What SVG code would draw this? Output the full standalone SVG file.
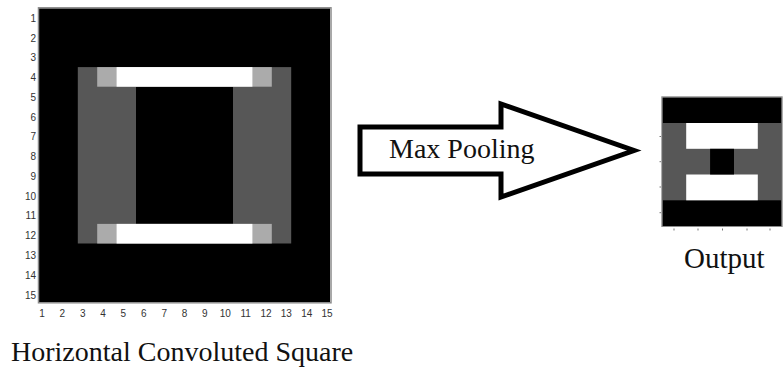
<svg xmlns="http://www.w3.org/2000/svg" width="783" height="371" viewBox="0 0 783 371">
<style>
.blk{fill:#000}
.dg{fill:#575757}
.lg{fill:#ababab}
.wh{fill:#fff}
.frame{fill:none;stroke:#8c8c8c;stroke-width:1.5}
.tick{font-family:"Liberation Sans",Arial,sans-serif;font-size:10px;fill:#333}
.ylab{text-anchor:end}
.xlab{text-anchor:middle}
.cap{font-family:"Liberation Serif","Times New Roman",serif;font-size:28px;fill:#111}
.arrow{fill:#fff;stroke:#000;stroke-width:5;stroke-linejoin:miter;stroke-miterlimit:10}
.mk{stroke:#777;stroke-width:1}
</style>
<rect width="783" height="371" fill="#fff"/>
<g id="input-image">
<rect class="blk" x="39" y="8.3" width="291" height="294"/>
<rect class="dg" x="77.8" y="67.1" width="213.4" height="176.4"/>
<rect class="blk" x="136" y="86.7" width="97" height="137.2"/>
<rect class="lg" x="97.2" y="67.1" width="174.6" height="19.6"/>
<rect class="wh" x="116.6" y="67.1" width="135.8" height="19.6"/>
<rect class="lg" x="97.2" y="223.9" width="174.6" height="19.6"/>
<rect class="wh" x="116.6" y="223.9" width="135.8" height="19.6"/>
<rect class="frame" x="38.5" y="7.8" width="292.5" height="295"/>
</g>
<g id="input-y-axis" class="tick ylab">
<text x="36" y="21.8">1</text>
<text x="36" y="41.6">2</text>
<text x="36" y="61.3">3</text>
<text x="36" y="81.1">4</text>
<text x="36" y="100.9">5</text>
<text x="36" y="120.6">6</text>
<text x="36" y="140.4">7</text>
<text x="36" y="160.2">8</text>
<text x="36" y="179.9">9</text>
<text x="36" y="199.7">10</text>
<text x="36" y="219.4">11</text>
<text x="36" y="239.2">12</text>
<text x="36" y="259">13</text>
<text x="36" y="278.7">14</text>
<text x="36" y="298.5">15</text>
</g>
<g id="input-x-axis" class="tick xlab">
<text x="42" y="316.5">1</text>
<text x="62.4" y="316.5">2</text>
<text x="82.7" y="316.5">3</text>
<text x="103.1" y="316.5">4</text>
<text x="123.4" y="316.5">5</text>
<text x="143.8" y="316.5">6</text>
<text x="164.2" y="316.5">7</text>
<text x="184.5" y="316.5">8</text>
<text x="204.9" y="316.5">9</text>
<text x="225.2" y="316.5">10</text>
<text x="245.6" y="316.5">11</text>
<text x="266" y="316.5">12</text>
<text x="286.3" y="316.5">13</text>
<text x="306.7" y="316.5">14</text>
<text x="327" y="316.5">15</text>
</g>
<g id="input-label">
<text class="cap" x="11" y="361">Horizontal Convoluted Square</text>
</g>
<g id="max-pooling-arrow">
<polygon class="arrow" points="360,127 501,127 501,104 634,150.5 501,197 501,174 360,174"/>
<text class="cap" x="389" y="158.3">Max Pooling</text>
</g>
<g id="output-image">
<rect class="blk" x="662.3" y="97.3" width="119.4" height="128.7"/>
<rect class="dg" x="662.3" y="123" width="119.4" height="77.3"/>
<rect class="wh" x="686.2" y="123" width="71.6" height="25.8"/>
<rect class="wh" x="686.2" y="174.5" width="71.6" height="25.8"/>
<rect class="blk" x="710.1" y="148.8" width="23.9" height="25.7"/>
<rect class="frame" x="661.8" y="96.8" width="120.4" height="129.7" style="stroke-width:1"/>
<g id="output-ticks">
<line class="mk" x1="659.5" y1="136.5" x2="661" y2="136.5"/>
<line class="mk" x1="659.5" y1="161.7" x2="661" y2="161.7"/>
<line class="mk" x1="659.5" y1="187" x2="661" y2="187"/>
<line class="mk" x1="659.5" y1="212.7" x2="661" y2="212.7"/>
<line class="mk" x1="674" y1="228.5" x2="674" y2="230.5"/>
<line class="mk" x1="698" y1="228.5" x2="698" y2="230.5"/>
<line class="mk" x1="722.5" y1="228.5" x2="722.5" y2="230.5"/>
<line class="mk" x1="747" y1="228.5" x2="747" y2="230.5"/>
<line class="mk" x1="770" y1="228.5" x2="770" y2="230.5"/>
</g>
</g>
<g id="output-label">
<text class="cap" x="684" y="268.3" style="font-size:29px">Output</text>
</g>
</svg>
